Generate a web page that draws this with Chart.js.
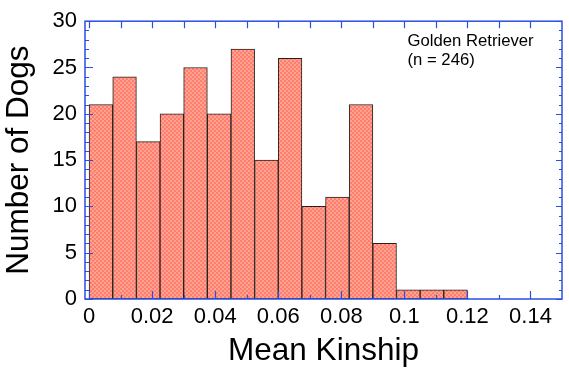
<!DOCTYPE html>
<html>
<head>
<meta charset="utf-8">
<script src="https://cdn.jsdelivr.net/npm/chart.js@4.4.1/dist/chart.umd.min.js"></script>
<style>
html,body{margin:0;padding:0;background:#fff;}
#wrap{width:569px;height:370px;position:relative;}
</style>
</head>
<body>
<div id="wrap"><canvas id="c" width="569" height="370"></canvas></div>
<script>
// Data (bin width 0.0075)
const binCenters = [0.00375, 0.01125, 0.01875, 0.02625, 0.03375, 0.04125, 0.04875, 0.05625,
                    0.06375, 0.07125, 0.07875, 0.08625, 0.09375, 0.10125, 0.10875, 0.11625];
const dogCounts  = [21, 24, 17, 20, 25, 20, 27, 15, 26, 10, 11, 21, 6, 1, 1, 1];
const xTickValues = [0, 0.02, 0.04, 0.06, 0.08, 0.1, 0.12, 0.14];
const xTickLabels = ["0", "0.02", "0.04", "0.06", "0.08", "0.1", "0.12", "0.14"];
const xMinorValues = [0.01, 0.03, 0.05, 0.07, 0.09, 0.11, 0.13];
const yTickValues = [0, 5, 10, 15, 20, 25, 30];
const yMinorValues = [1,2,3,4,6,7,8,9,11,12,13,14,16,17,18,19,21,22,23,24,26,27,28,29];
const annotationLines = ["Golden Retriever", "(n = 246)"];

const FONT = "'Liberation Sans', Arial, Helvetica, sans-serif";
const AXIS_BLUE = '#2a4fe3';

function makePattern() {
  const p = document.createElement('canvas');
  p.width = 4; p.height = 4;
  const g = p.getContext('2d');
  g.fillStyle = '#ffa291'; g.fillRect(0,0,4,4);
  g.fillStyle = '#ff7d6b';
  g.fillRect(0,0,2,2); g.fillRect(2,2,2,2);
  return document.getElementById('c').getContext('2d').createPattern(p, 'repeat');
}

const framePlugin = {
  id: 'frame',
  afterDatasetsDraw(chart) {
    const ctx = chart.ctx;
    const a = chart.chartArea;
    const xs = chart.scales.x, ys = chart.scales.y;
    ctx.save();
    ctx.strokeStyle = AXIS_BLUE;
    ctx.lineWidth = 1.5;
    ctx.strokeRect(a.left, a.top, a.right - a.left, a.bottom - a.top);
    ctx.lineWidth = 1.2;
    ctx.beginPath();
    const tickX = (v, len, lenTop) => {
      const px = Math.round(xs.getPixelForValue(v)) + 0.5;
      ctx.moveTo(px, a.bottom); ctx.lineTo(px, a.bottom - len);
      ctx.moveTo(px, a.top); ctx.lineTo(px, a.top + lenTop);
    };
    xTickValues.forEach(v => tickX(v, 8, 7));
    xMinorValues.forEach(v => tickX(v, 4, 7));
    const tickY = (v, lenL, lenR) => {
      const py = Math.round(ys.getPixelForValue(v)) + 0.5;
      ctx.moveTo(a.left, py); ctx.lineTo(a.left + lenL, py);
      ctx.moveTo(a.right, py); ctx.lineTo(a.right - lenR, py);
    };
    yTickValues.forEach(v => tickY(v, 8, 6));
    yMinorValues.forEach(v => tickY(v, 4, 3));
    ctx.stroke();
    // annotation
    ctx.fillStyle = '#000';
    ctx.font = '16.7px ' + FONT;
    ctx.textAlign = 'left';
    ctx.textBaseline = 'alphabetic';
    const ax = xs.getPixelForValue(0.101);
    const ay = ys.getPixelForValue(27.3);
    annotationLines.forEach((t, i) => ctx.fillText(t, ax, ay + i * 19));
    ctx.restore();
  }
};

new Chart(document.getElementById('c'), {
  type: 'bar',
  data: {
    datasets: [{
      data: binCenters.map((x, i) => ({ x: x, y: dogCounts[i] })),
      backgroundColor: makePattern(),
      borderColor: '#222222',
      borderWidth: 1,
      borderSkipped: false,
      barPercentage: 1,
      categoryPercentage: 1
    }]
  },
  options: {
    responsive: false,
    animation: false,
    events: [],
    layout: { padding: { left: 0, top: 16, right: 7, bottom: 0 } },
    plugins: { legend: { display: false }, tooltip: { enabled: false } },
    scales: {
      x: {
        type: 'linear',
        offset: false,
        min: -0.0013,
        max: 0.15,
        grid: { display: false, drawTicks: false, offset: false },
        border: { display: false },
        afterBuildTicks(s) { s.ticks = xTickValues.map(v => ({ value: v })); },
        afterFit(s) { s.height = 71; },
        ticks: {
          autoSkip: false,
          maxRotation: 0,
          padding: 5,
          color: '#000',
          font: { family: FONT, size: 22 },
          callback: (v) => { const i = xTickValues.indexOf(v); return i >= 0 ? xTickLabels[i] : ''; }
        },
        title: {
          display: true, text: 'Mean Kinship', color: '#000',
          font: { family: FONT, size: 31.5 },
          padding: { top: 0, bottom: 0 }
        }
      },
      y: {
        min: 0,
        max: 30,
        grid: { display: false, drawTicks: false },
        border: { display: false },
        afterBuildTicks(s) { s.ticks = yTickValues.map(v => ({ value: v })); },
        afterFit(s) { s.width = 85; },
        ticks: {
          padding: 8,
          color: '#000',
          font: { family: FONT, size: 22 },
          callback: (v) => String(v)
        },
        title: {
          display: true, text: 'Number of Dogs', color: '#000',
          font: { family: FONT, size: 31.5 },
          padding: { top: 0, bottom: 0 }
        }
      }
    }
  },
  plugins: [framePlugin]
});
</script>
</body>
</html>
